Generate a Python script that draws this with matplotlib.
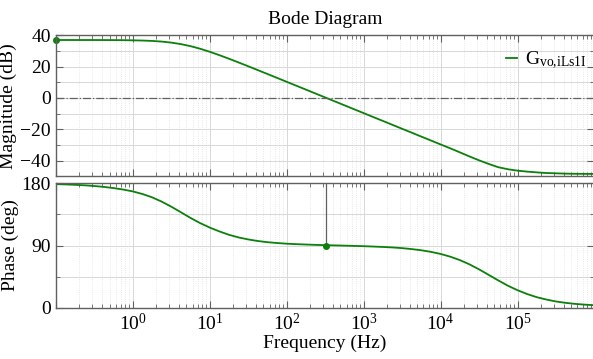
import numpy as np
import matplotlib
matplotlib.use("Agg")
import matplotlib.pyplot as plt
from matplotlib.ticker import LogLocator, FixedLocator, NullFormatter

# ======================================================
# Datos leidos del diagrama de Bode (1/8 de decada)
# ======================================================
freq = [0.1, 0.133, 0.178, 0.237, 0.316, 0.422, 0.562, 0.750,
        1.0, 1.33, 1.78, 2.37, 3.16, 4.22, 5.62, 7.50,
        10, 13.3, 17.8, 23.7, 31.6, 42.2, 56.2, 75.0,
        100, 133, 178, 237, 316, 422, 562, 750,
        1000, 1330, 1780, 2370, 3160, 4220, 5620, 7500,
        10000, 13300, 17800, 23700, 31600, 42200, 56200, 75000,
        100000, 133000, 178000, 237000, 316000, 422000, 562000, 750000,
        1000000]

mag_db = [37.0, 37.0, 36.99, 36.99, 36.98, 36.96, 36.94, 36.89,
          36.80, 36.66, 36.41, 36.0, 35.35, 34.39, 33.09, 31.44,
          29.50, 27.37, 25.06, 22.69, 20.26, 17.79, 15.33, 12.83,
          10.34, 7.87, 5.34, 2.85, 0.36, -2.16, -4.65, -7.15,
          -9.65, -12.15, -14.65, -17.15, -19.65, -22.15, -24.65, -27.15,
          -29.65, -32.1, -34.7, -37.3, -39.8, -42.1, -44.2, -45.5,
          -46.4, -47.0, -47.5, -47.9, -48.1, -48.3, -48.4, -48.45,
          -48.5]

phase_deg = [178.8, 178.4, 177.8, 177.1, 176.1, 174.8, 173.1, 171.0,
             168.3, 164.6, 159.8, 153.6, 146.3, 138.2, 130.0, 122.5,
             116.0, 110.5, 105.5, 101.7, 98.8, 96.5, 94.8, 93.6,
             92.6, 91.95, 91.4, 90.9, 90.5, 90.15, 89.8, 89.4,
             89.0, 88.5, 87.9, 87.2, 86.2, 84.8, 83.1, 80.8,
             77.8, 73.9, 68.9, 62.8, 55.5, 47.5, 39.5, 31.8,
             25.3, 19.8, 15.2, 11.8, 9.0, 7.0, 5.5, 4.4,
             3.6]

# marcadores (inicio de magnitud y margen de fase)
gm_freq, gm_mag = 0.1, 37.0
pm_freq, pm_phase = 328, 90.0

serie = r"$\mathregular{G_{vo{,}iLs1I}}$"
verde = "#0b800b"
gris = "#606060"

plt.rcParams["font.family"] = ["Liberation Serif", "DejaVu Serif"]
plt.rcParams["mathtext.fontset"] = "custom"
plt.rcParams["mathtext.rm"] = "Liberation Serif"
plt.rcParams["mathtext.it"] = "Liberation Serif"

W, H = 593, 359
fig = plt.figure(figsize=(W / 100, H / 100), dpi=100)
ax_m = fig.add_axes([55.7 / W, 1 - 176.3 / H, (594.5 - 55.7) / W, (176.3 - 35.3) / H])
ax_p = fig.add_axes([55.7 / W, 1 - 307.7 / H, (594.5 - 55.7) / W, (307.7 - 183.3) / H])

# magnitud
ax_m.semilogx(freq, mag_db, color=verde, lw=1.3, label=serie)
ax_m.plot([gm_freq], [gm_mag], "o", color=verde, ms=4, clip_on=False)
ax_m.axhline(0, color=gris, lw=0.9, ls="-.")
ax_m.set_ylim(-50, 40)
ax_m.yaxis.set_major_locator(FixedLocator([-40, -20, 0, 20, 40]))
ax_m.yaxis.set_minor_locator(FixedLocator([-50, -30, -10, 10, 30]))
ax_m.set_ylabel("Magnitude (dB)", fontsize=14, labelpad=2)
ax_m.set_title("Bode Diagram", fontsize=14, pad=8)
ax_m.legend(loc="upper right", bbox_to_anchor=(1.0, 0.95), frameon=False,
            fontsize=14, handlelength=0.6, handletextpad=0.4, borderaxespad=0)

# fase
ax_p.semilogx(freq, phase_deg, color=verde, lw=1.3)
ax_p.plot([pm_freq, pm_freq], [pm_phase, 180], color=gris, lw=0.9)
ax_p.plot([pm_freq], [pm_phase], "o", color=verde, ms=4)
ax_p.set_ylim(0, 180)
ax_p.yaxis.set_major_locator(FixedLocator([0, 90, 180]))
ax_p.yaxis.set_minor_locator(FixedLocator([45, 135]))
ax_p.set_ylabel("Phase (deg)", fontsize=14, labelpad=2)
ax_p.set_xlabel("Frequency (Hz)", fontsize=14, labelpad=1)

for ax in (ax_m, ax_p):
    ax.set_xlim(0.1, 1e6)
    ax.xaxis.set_major_locator(LogLocator(base=10, numticks=12))
    ax.xaxis.set_minor_locator(LogLocator(base=10, subs=np.arange(2, 10), numticks=12))
    ax.xaxis.set_minor_formatter(NullFormatter())
    ax.grid(True, which="major", color="#d8d8d8", lw=0.7)
    ax.grid(True, which="minor", axis="x", color="#e0e0e0", lw=0.6, ls=":")
    ax.grid(True, which="minor", axis="y", color="#d8d8d8", lw=0.7)
    ax.tick_params(which="both", direction="in", top=True, right=True,
                   colors=gris, labelcolor="black", labelsize=14)
    ax.tick_params(which="major", length=5, width=0.8)
    ax.tick_params(which="minor", length=3, width=0.6)
    for s in ax.spines.values():
        s.set_color(gris)
        s.set_linewidth(1.0)
    ax.set_axisbelow(True)

ax_m.xaxis.set_major_formatter(NullFormatter())
# sin etiquetas en 10^-1 y 10^6 (bordes)
ax_p.xaxis.set_major_formatter(plt.FuncFormatter(
    lambda v, p: "" if v < 0.5 or v > 5e5 else r"$\mathregular{10^{%d}}$" % round(np.log10(v))))

fig.savefig("out.png", dpi=100)
